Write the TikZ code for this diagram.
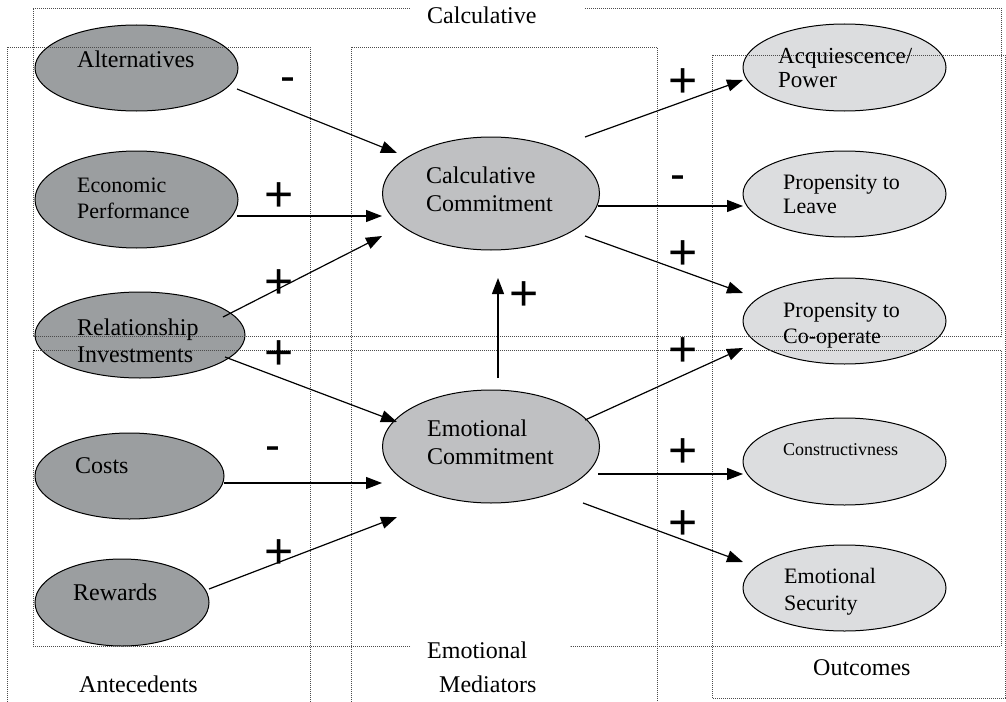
\documentclass[tikz,border=0pt]{standalone}
\usepackage{fontspec}
\setmainfont{Liberation Serif}
\newfontfamily\signfont{Liberation Sans}
\usetikzlibrary{shapes.geometric,arrows.meta}
\definecolor{antefill}{HTML}{9B9EA0}
\definecolor{medfill}{HTML}{BFC0C2}
\definecolor{outfill}{HTML}{DCDDDF}
\tikzset{
 ell/.style={ellipse, draw=black, line width=1pt, inner sep=0pt},
 ante/.style={ell, fill=antefill},
 medi/.style={ell, fill=medfill},
 outc/.style={ell, fill=outfill},
 dotline/.style={draw=black!70, line width=0.7pt, dash pattern=on 0.7pt off 1.3pt},
 conn/.style={-{Triangle[length=16pt,width=12pt]}, line width=1.2pt},
 lbl/.style={anchor=base west, align=left, inner sep=0pt, font=\fontsize{24}{28}\selectfont},
 lblm/.style={lbl, font=\fontsize{22}{25}\selectfont},
 lbla/.style={lbl, font=\fontsize{23}{24}\selectfont},
 lbls/.style={lbl, font=\fontsize{18}{21}\selectfont},
 plussign/.style={inner sep=0pt, font=\signfont\fontsize{50}{50}\selectfont},
 minussign/.style={inner sep=0pt, font=\signfont\fontsize{45}{45}\selectfont},
}
\begin{document}
\begin{tikzpicture}[x=1pt,y=-1pt]
\clip (0,0) rectangle (1006,701);
\fill[white] (0,0) rectangle (1006,701);

% ellipses
\node[ante, minimum width=203pt, minimum height=86pt] (alt) at (136.5,68) {};
\node[ante, minimum width=203pt, minimum height=97pt] (eco) at (136.5,199.5) {};
\node[ante, minimum width=210pt, minimum height=86pt] (rel) at (140,335) {};
\node[ante, minimum width=189pt, minimum height=86pt] (costs) at (129.5,476) {};
\node[ante, minimum width=174pt, minimum height=87pt] (rew) at (122,602.5) {};
\node[medi, minimum width=217pt, minimum height=113pt] (calc) at (491,193.5) {};
\node[medi, minimum width=217pt, minimum height=113pt] (emo) at (491,446.5) {};
\node[outc, minimum width=203pt, minimum height=87pt] (acq) at (844.5,67.5) {};
\node[outc, minimum width=203pt, minimum height=86pt] (leave) at (844.5,194) {};
\node[outc, minimum width=203pt, minimum height=86pt] (coop) at (844.5,321) {};
\node[outc, minimum width=203pt, minimum height=87pt] (constr) at (844.5,461.5) {};
\node[outc, minimum width=203pt, minimum height=86pt] (secur) at (844.5,588) {};

% dotted group boxes
\draw[dotline] (33,8) -- (410,8);
\draw[dotline] (585,8) -- (1001,8) -- (1001,336) -- (33,336) -- (33,8);
\draw[dotline] (410,646) -- (33,646) -- (33,350) -- (1001,350) -- (1001,646) -- (570,646);
\draw[dotline] (7,712) -- (7,47) -- (310,47) -- (310,712);
\draw[dotline] (351,712) -- (351,47) -- (657,47) -- (657,712);
\draw[dotline] (712,55) rectangle (1005,698);

% connectors
\draw[conn] ([shift={(100.5,21)}]alt.center) -- ([shift={(-94,-40.5)}]calc.center);
\draw[conn] ([shift={(100.5,16.5)}]eco.center) -- ([shift={(-109,22.5)}]calc.center);
\draw[conn] ([shift={(83,-18)}]rel.center) -- ([shift={(-109,42.5)}]calc.center);
\draw[conn] ([shift={(85,22)}]rel.center) -- ([shift={(-94,-24.5)}]emo.center);
\draw[conn] ([shift={(94.5,7)}]costs.center) -- ([shift={(-109,36.5)}]emo.center);
\draw[conn] ([shift={(87,-13.5)}]rew.center) -- ([shift={(-94,70.5)}]emo.center);
\draw[conn] ([shift={(7,-68.5)}]emo.center) -- ([shift={(7,84.5)}]calc.center);
\draw[conn] ([shift={(94,-56.5)}]calc.center) -- ([shift={(-101.5,12.5)}]acq.center);
\draw[conn] ([shift={(107,12.5)}]calc.center) -- ([shift={(-101.5,12)}]leave.center);
\draw[conn] ([shift={(94,42.5)}]calc.center) -- ([shift={(-101.5,-28)}]coop.center);
\draw[conn] ([shift={(94,-26.5)}]emo.center) -- ([shift={(-101.5,27)}]coop.center);
\draw[conn] ([shift={(107,27.5)}]emo.center) -- ([shift={(-101.5,12.5)}]constr.center);
\draw[conn] ([shift={(92,56.5)}]emo.center) -- ([shift={(-101.5,-26)}]secur.center);

% ellipse texts (multi-line nodes: base = baseline of last line)
\node[lbl] (altT) at (77,67) {Alternatives};
\node[lblm, font=\fontsize{22}{26}\selectfont] (ecoT) at (77,218) {Economic\\Performance};
\node[lbl, font=\fontsize{24}{27}\selectfont] (relT) at (77,362) {Relationship\\Investments};
\node[lbl] (costsT) at (75,473) {Costs};
\node[lbl] (rewT) at (73,600) {Rewards};
\node[lbl, font=\fontsize{24}{28.5}\selectfont] (calcT) at (426,211.5) {Calculative\\Commitment};
\node[lbl, font=\fontsize{24}{28.5}\selectfont] (emoT) at (427,464.5) {Emotional\\Commitment};
\node[lbla] (acqT) at (778,87) {Acquiescence/\\Power};
\node[lblm, font=\fontsize{22}{24}\selectfont] (leaveT) at (783,213) {Propensity to\\Leave};
\node[lblm, font=\fontsize{22}{26}\selectfont] (coopT) at (783,343) {Propensity to\\Co-operate};
\node[lbls] (constrT) at (783,455) {Constructivness};
\node[lblm, font=\fontsize{22}{27}\selectfont] (securT) at (784,610) {Emotional\\Security};

% group labels
\node[lbl] (calcLab) at (427,24) {Calculative};
\node[lbl] (emoLab) at (427,658) {Emotional};
\node[lbl] (medLab) at (439,692) {Mediators};
\node[lbl] (anteLab) at (79,692) {Antecedents};
\node[lbl] (outLab) at (813,675) {Outcomes};

% signs
\node[minussign] (s1) at (288,84.5) {-};
\node[plussign] (s2) at (279,197) {+};
\node[plussign] (s3) at (279,284) {+};
\node[plussign] (s4) at (279,355) {+};
\node[minussign] (s5) at (273,454) {-};
\node[plussign] (s6) at (279,554) {+};
\node[plussign] (s7) at (524.5,296) {+};
\node[plussign] (s8) at (683,83) {+};
\node[minussign] (s9) at (677.5,183) {-};
\node[plussign] (s10) at (683,255) {+};
\node[plussign] (s11) at (683,352) {+};
\node[plussign] (s12) at (683,453.5) {+};
\node[plussign] (s13) at (683,525.5) {+};
\end{tikzpicture}
\end{document}
